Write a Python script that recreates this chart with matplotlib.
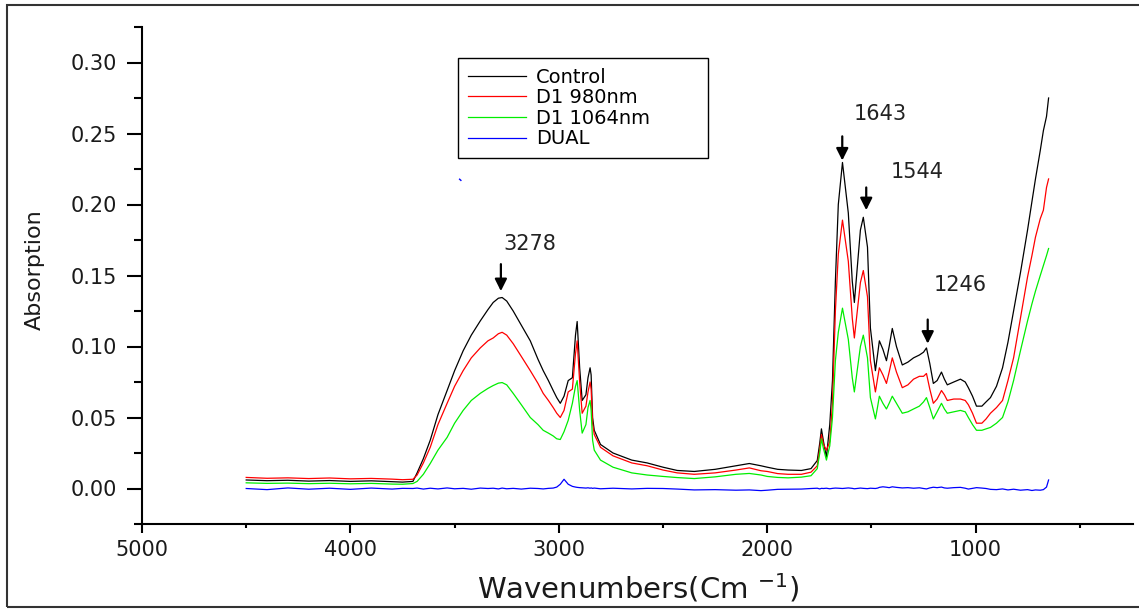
import matplotlib.pyplot as plt
from matplotlib.ticker import MultipleLocator, FormatStrFormatter
from matplotlib.patches import Rectangle

# %% data
wavenumber = [4500, 4400, 4300, 4200, 4100, 4000, 3900, 3800, 3750, 3700,
              3680, 3650, 3617, 3580, 3536, 3500, 3459, 3420, 3377, 3340,
              3315, 3290, 3272, 3250, 3219, 3180, 3137, 3100, 3075, 3050,
              3027, 3010, 2993, 2975, 2955, 2935, 2920, 2912, 2900, 2888,
              2870, 2860, 2850, 2845, 2838, 2830, 2800, 2740, 2650, 2576,
              2500, 2432, 2350, 2250, 2150, 2086, 2030, 2000, 1950, 1900,
              1836, 1790, 1760, 1748, 1740, 1730, 1716, 1700, 1687, 1673,
              1659, 1639, 1611, 1592, 1582, 1553, 1539, 1519, 1505, 1481,
              1470, 1462, 1445, 1428, 1415, 1400, 1380, 1352, 1325, 1298,
              1270, 1250, 1236, 1220, 1203, 1185, 1164, 1150, 1136, 1105,
              1073, 1050, 1035, 1015, 996, 970, 950, 929, 900, 871,
              845, 818, 785, 751, 730, 713, 690, 675, 660, 650]

control = [.0060, .0055, .0058, .0052, .0056, .0050, .0054, .0048, .0045, .0050,
           .0110, .0210, .0340, .0520, .0690, .0830, .0970, .1080, .1180, .1260,
           .1310, .1340, .1345, .1320, .1250, .1150, .1040, .0910, .0830, .0760,
           .0690, .0640, .0600, .0650, .0760, .0780, .1080, .1176, .0850, .0620,
           .0660, .0780, .0850, .0800, .0500, .0410, .0310, .0250, .0200, .0180,
           .0150, .0127, .0120, .0135, .0160, .0176, .0160, .0150, .0135, .0130,
           .0127, .0140, .0197, .0320, .0420, .0330, .0220, .0450, .0760, .1460,
           .2000, .2296, .1940, .1460, .1310, .1820, .1910, .1700, .1130, .0830,
           .0950, .1040, .0980, .0900, .1000, .1127, .1000, .0870, .0890, .0920,
           .0940, .0960, .0990, .0880, .0740, .0760, .0820, .0770, .0730, .0750,
           .0770, .0750, .0710, .0650, .0580, .0580, .0610, .0640, .0720, .0850,
           .1030, .1250, .1520, .1820, .2020, .2180, .2380, .2520, .2620, .2750]

d1_980nm = [.0078, .0072, .0075, .0070, .0074, .0068, .0071, .0066, .0062, .0065,
            .0095, .0180, .0290, .0450, .0600, .0720, .0830, .0920, .0990, .1040,
            .1060, .1090, .1100, .1080, .1020, .0930, .0830, .0740, .0670, .0620,
            .0570, .0530, .0500, .0550, .0680, .0700, .0950, .1040, .0750, .0530,
            .0580, .0680, .0750, .0700, .0460, .0380, .0290, .0230, .0180, .0160,
            .0130, .0110, .0100, .0110, .0130, .0145, .0125, .0120, .0105, .0100,
            .0100, .0115, .0160, .0280, .0380, .0310, .0270, .0330, .0600, .1250,
            .1650, .1890, .1600, .1200, .1060, .1450, .1535, .1350, .0900, .0680,
            .0780, .0850, .0800, .0740, .0820, .0920, .0820, .0710, .0730, .0770,
            .0790, .0790, .0810, .0700, .0600, .0630, .0690, .0660, .0620, .0630,
            .0630, .0620, .0590, .0530, .0460, .0460, .0490, .0530, .0570, .0620,
            .0760, .0920, .1200, .1490, .1640, .1770, .1900, .1960, .2120, .2180]

d1_1064nm = [.0040, .0036, .0038, .0034, .0037, .0033, .0036, .0031, .0030, .0035,
             .0050, .0100, .0176, .0270, .0360, .0460, .0550, .0620, .0670, .0705,
             .0725, .0742, .0746, .0730, .0670, .0590, .0500, .0450, .0410, .0390,
             .0370, .0350, .0345, .0400, .0480, .0600, .0720, .0760, .0550, .0390,
             .0450, .0570, .0620, .0550, .0340, .0270, .0200, .0150, .0110, .0095,
             .0085, .0077, .0070, .0082, .0100, .0106, .0095, .0085, .0078, .0075,
             .0080, .0090, .0140, .0250, .0350, .0280, .0200, .0300, .0500, .0900,
             .1100, .1270, .1050, .0780, .0680, .1000, .1080, .0920, .0640, .0490,
             .0580, .0650, .0600, .0560, .0600, .0650, .0600, .0530, .0540, .0560,
             .0580, .0610, .0640, .0570, .0490, .0540, .0600, .0560, .0530, .0540,
             .0550, .0540, .0500, .0450, .0410, .0410, .0420, .0430, .0460, .0500,
             .0610, .0760, .0970, .1180, .1300, .1390, .1500, .1570, .1640, .1690]

dual = [.0000, -.0008, .0004, -.0005, .0002, -.0006, .0003, -.0004, .0001, .0000,
        .0003, -.0004, .0002, -.0003, .0004, -.0002, .0001, -.0005, .0003, .0000,
        .0002, -.0003, .0003, -.0002, .0001, -.0004, .0002, .0000, -.0003, .0001,
        .0003, .0010, .0030, .0065, .0030, .0015, .0010, .0008, .0006, .0005,
        .0003, .0005, .0002, .0004, .0001, .0003, -.0002, .0002, -.0003, .0001,
        .0000, -.0004, -.0010, -.0008, -.0012, -.0010, -.0015, -.0012, -.0006, -.0005,
        -.0004, .0000, .0002, -.0003, .0001, .0000, .0002, -.0002, .0001, .0003,
        .0002, .0000, .0004, .0001, -.0002, .0003, .0001, -.0001, .0002, .0000,
        .0003, .0008, .0012, .0009, .0006, .0012, .0008, .0004, .0006, .0002,
        .0005, .0000, -.0003, .0004, .0009, .0006, .0010, .0004, .0002, .0006,
        .0008, .0002, -.0004, .0001, .0006, .0003, .0000, -.0006, -.0008, -.0003,
        -.0010, -.0005, -.0012, -.0008, -.0014, -.0010, -.0012, -.0008, .0010, .0060]

series_names = ['Control', 'D1 980nm', 'D1 1064nm', 'DUAL']
series_colors = ['black', 'red', '#00ee00', 'blue']

# peak markers
peak_labels = ['3278', '1643', '1544', '1246']
arrow_x = [3278, 1640, 1525, 1230]
arrow_top = [0.158, 0.248, 0.212, 0.119]
arrow_head = [0.139, 0.231, 0.196, 0.102]
label_x = [3137, 1457, 1279, 1073]
label_y = [0.172, 0.264, 0.223, 0.143]

# %% plot
plt.rcParams['mathtext.default'] = 'regular'
fig = plt.figure(figsize=(11.39, 6.09), dpi=100)
ax = fig.add_axes([142 / 1139, 1 - 524 / 609, 991 / 1139, 497 / 609])

for values, name, color in zip([control, d1_980nm, d1_1064nm, dual], series_names, series_colors):
    ax.plot(wavenumber, values, color=color, lw=0.9, label=name)

# stray blue speck in the original
ax.plot([3476, 3470], [0.2178, 0.2170], color='blue', lw=1)

for i in range(len(peak_labels)):
    ax.annotate('', xy=(arrow_x[i], arrow_head[i]), xytext=(arrow_x[i], arrow_top[i]),
                arrowprops=dict(arrowstyle='-|>', color='black', lw=1.6, mutation_scale=18,
                                shrinkA=0, shrinkB=0))
    ax.text(label_x[i], label_y[i], peak_labels[i], ha='center', va='center',
            fontsize=15, color='#222222')

ax.set_xlim(5000, 245)
ax.set_ylim(-0.025, 0.325)
ax.xaxis.set_major_locator(MultipleLocator(1000))
ax.xaxis.set_minor_locator(MultipleLocator(500))
ax.yaxis.set_major_locator(MultipleLocator(0.05))
ax.yaxis.set_minor_locator(MultipleLocator(0.025))
ax.yaxis.set_major_formatter(FormatStrFormatter('%.2f'))

for side in ['top', 'right']:
    ax.spines[side].set_visible(False)
for side in ['left', 'bottom']:
    ax.spines[side].set_linewidth(1.5)

ax.tick_params(axis='x', which='major', length=6.5, width=1.5, pad=5, labelsize=15, labelcolor='#1a1a1a')
ax.tick_params(axis='x', which='minor', length=3, width=1.5)
ax.tick_params(axis='y', which='major', length=11, width=1.5, pad=7, labelsize=15, labelcolor='#1a1a1a')
ax.tick_params(axis='y', which='minor', length=6, width=1.5)

fig.text(638 / 1139, 1 - 588 / 609, r'Wavenumbers(Cm $^{-1}$)', ha='center', va='center',
         fontsize=21, color='#1a1a1a')
fig.text(35 / 1139, 1 - 270 / 609, 'Absorption', rotation=90, ha='center', va='center',
         fontsize=16, color='#1a1a1a')

leg = ax.legend(loc='upper left', bbox_to_anchor=(458 / 1139, 1 - 162 / 609, 250 / 1139, 104 / 609),
                bbox_transform=fig.transFigure, mode='expand', borderaxespad=0, fontsize=14,
                handlelength=3.0, handletextpad=0.5, labelspacing=0.08, borderpad=0.5,
                fancybox=False, framealpha=1, edgecolor='black')
leg.get_frame().set_linewidth(1.0)

# outer frame round the whole picture
fig.patches.append(Rectangle((7 / 1139, 2 / 609), 1.2, 1 - 7 / 609, transform=fig.transFigure,
                             fill=False, edgecolor='#333333', lw=1.5, clip_on=False))

fig.savefig('out.png', dpi=100)
